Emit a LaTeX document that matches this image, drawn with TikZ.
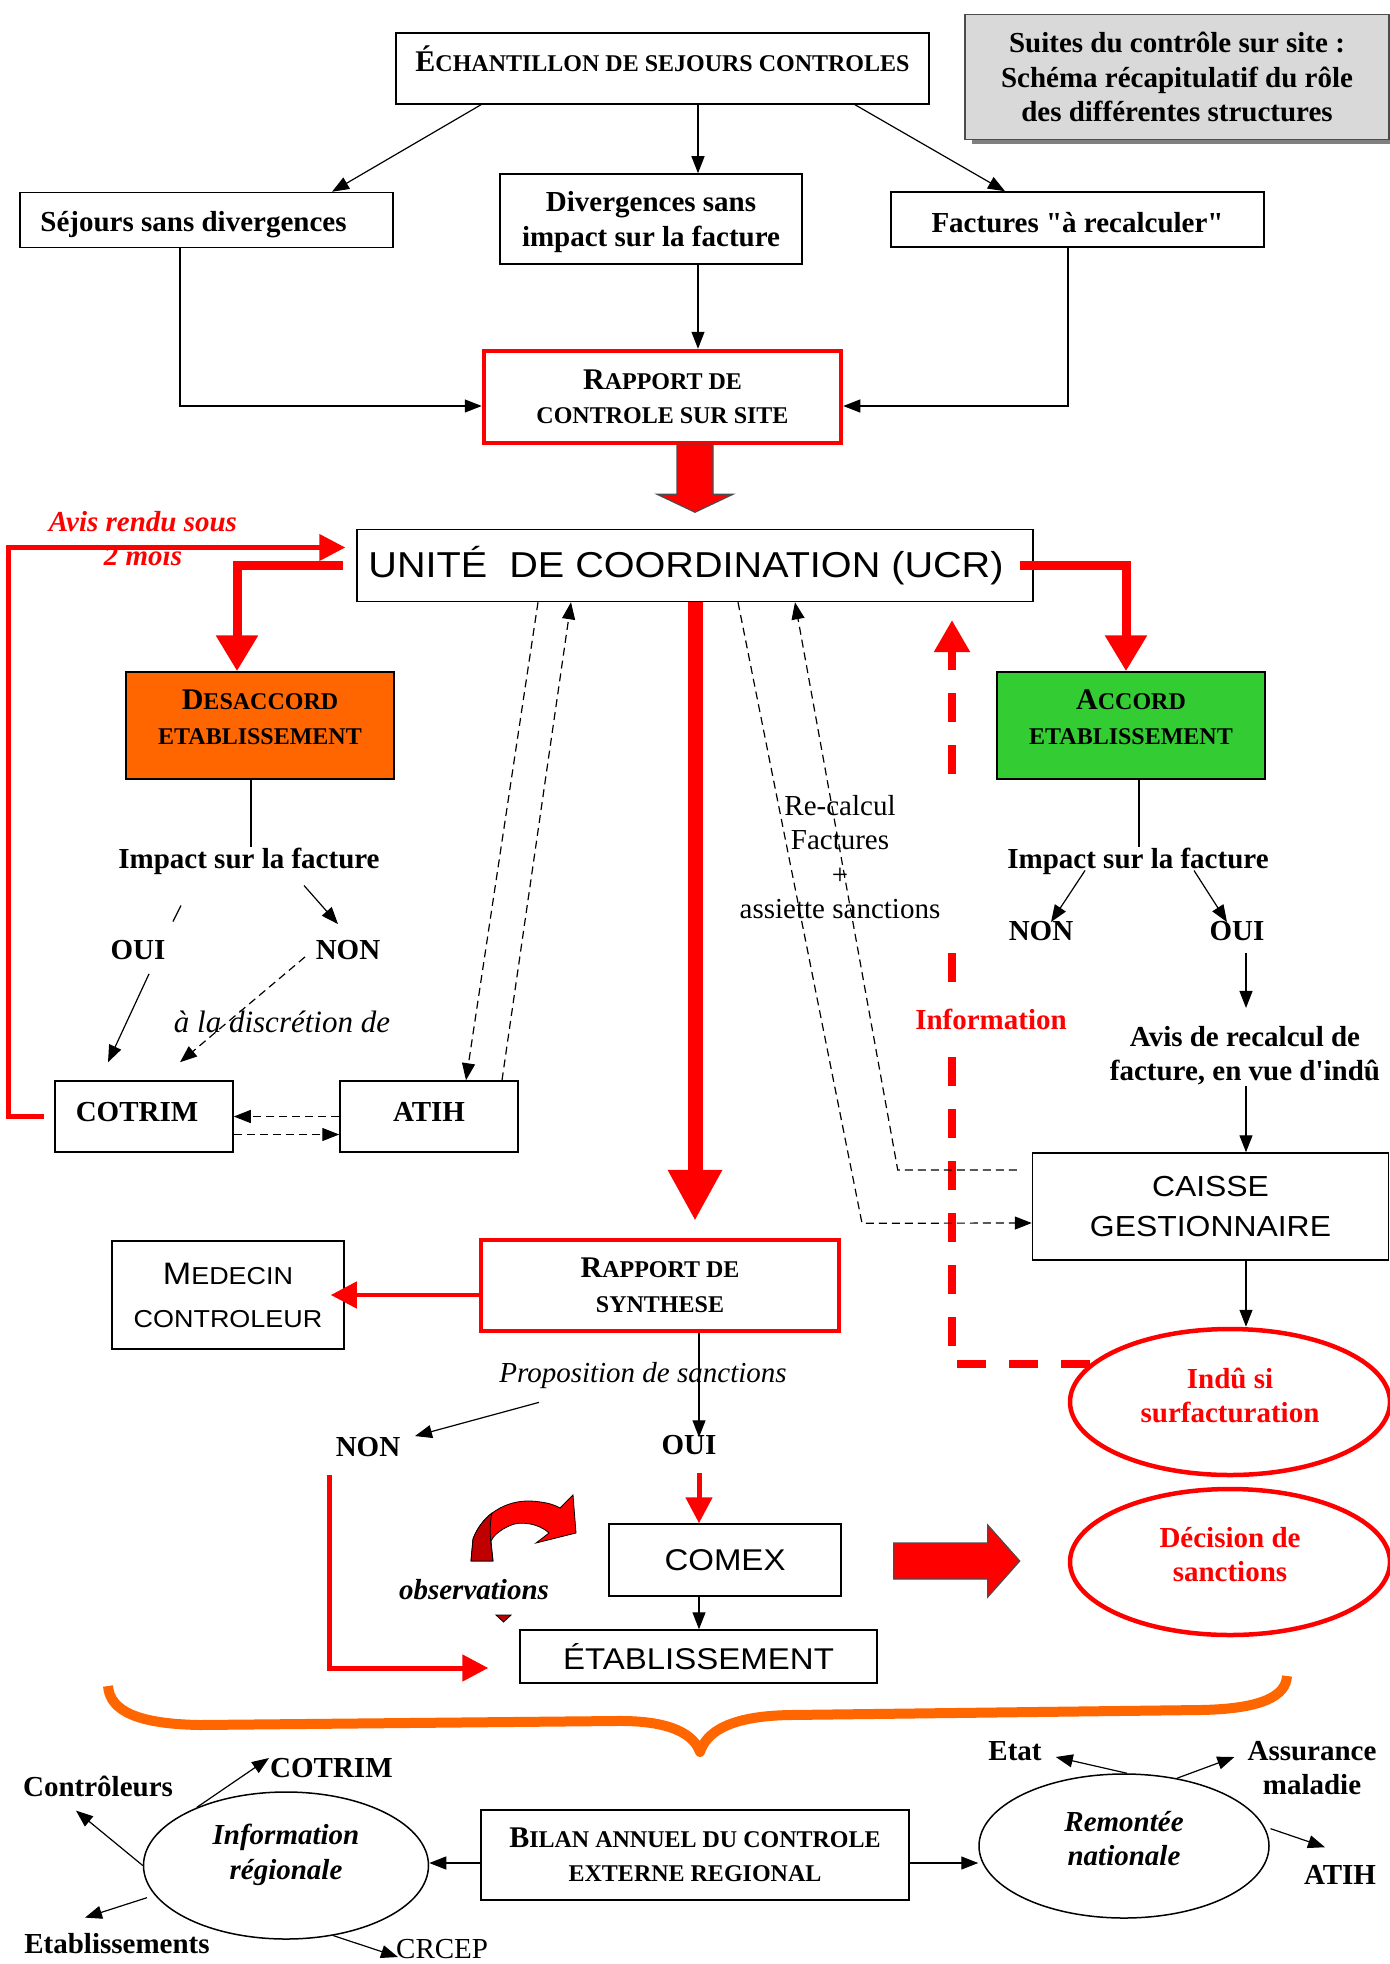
\documentclass[tikz,border=0pt]{standalone}
\usepackage{fontspec}
\setmainfont{Liberation Serif}
\newfontfamily\wsans[FakeStretch=1.1]{Liberation Sans}
\usepackage{tikz}
\usepackage{xcolor}
\usetikzlibrary{arrows.meta,calc,positioning,shapes.geometric,shadows}
\definecolor{RefusOrange}{HTML}{FF6600}
\definecolor{AccordGreen}{HTML}{33CC33}
\definecolor{TitleGray}{HTML}{D9D9D9}
\definecolor{DeepRed}{HTML}{C00000}
\newcommand{\fs}{\fontsize{29pt}{34.5pt}\selectfont}
\newcommand{\scbig}{\fontsize{30pt}{34.5pt}\selectfont}
\newcommand{\scsmall}{\fontsize{24pt}{34.5pt}\selectfont}
\newcommand{\capsc}[2]{{\scbig #1}{\scsmall #2}}

\begin{document}
\begin{tikzpicture}[x=1pt,y=-1pt,
      font=\bfseries\fs,
      bx/.style={draw,line width=1.5pt,inner sep=0pt,align=center},
      rb/.style={bx,draw=red,line width=4.5pt},
      sx/.style={bx,font=\wsans\fontsize{29pt}{40pt}\selectfont},
      lb/.style={inner sep=1pt,align=center},
      ov/.style={ellipse,draw=red,line width=4.5pt,minimum width=320pt,minimum height=146pt,text=red,align=center,inner sep=0pt},
      ci/.style={ellipse,draw,line width=1.5pt,minimum width=285pt,minimum height=147pt,inner sep=0pt,align=center,font=\bfseries\itshape\fs},
      ar/.style={line width=1.2pt,-{Triangle[length=17pt,width=13pt]}},
      da/.style={ar,dash pattern=on 8pt off 5pt},
      ln/.style={line width=1.2pt},
      rt/.style={draw=red,line width=4.5pt,-{Triangle[length=26pt,width=26pt]}},
      rm/.style={draw=red,line width=9pt,-{Triangle[length=36pt,width=40pt]}},
      rg/.style={draw=red,line width=15pt,-{Triangle[length=51pt,width=51pt]}},
      rd/.style={draw=red,line width=8pt,dash pattern=on 29pt off 23pt,-{Triangle[length=32pt,width=34pt]}},
      blk/.style={fill=red,draw=black!70,line width=1.2pt}
    ]
      \useasboundingbox (0,0) rectangle (1389,1964);

      \node[bx,minimum width=533pt,minimum height=71pt,text depth=19pt] (echant) at (662.5,68.5) {\capsc{É}{CHANTILLON DE SEJOURS CONTROLES}};
      \node[bx,draw=black!70,fill=TitleGray,minimum width=424pt,minimum height=125pt,
            drop shadow={shadow xshift=7pt,shadow yshift=-5pt,fill=black!50,opacity=1}] (titre) at (1177,77)
            {Suites du contrôle sur site :\\Schéma récapitulatif du rôle\\des différentes structures};
      \node[bx,minimum width=373pt,minimum height=55pt,text height=30pt] (sejours) at (206.5,220) {Séjours sans divergences\hspace*{26pt}};
      \node[bx,minimum width=302pt,minimum height=90pt,text depth=0pt] (diverg) at (651,219) {Divergences sans\\impact sur la facture};
      \node[bx,minimum width=373pt,minimum height=55pt,text height=26pt] (factures) at (1077.5,219.5) {Factures \textquotedbl à recalculer\textquotedbl};
      \node[rb,minimum width=357pt,minimum height=92pt] (rapctrl) at (662.5,397) {\capsc{R}{APPORT DE}\\{\scsmall CONTROLE SUR SITE}};

      \node[sx,font=\wsans\fontsize{36pt}{40pt}\selectfont,minimum width=676pt,minimum height=72pt] (ucr) at (695,565.5) {UNITÉ~~DE COORDINATION (UCR)\hspace*{18pt}};
      \node[lb,text=red,font=\bfseries\itshape\fs] (delai) at (143,538.5) {Avis rendu sous\\2 mois};

      \node[bx,fill=RefusOrange,minimum width=268pt,minimum height=107pt,text depth=17pt] (desacc) at (260,725.5) {\capsc{D}{ESACCORD}\\{\scsmall ETABLISSEMENT}};
      \node[lb] (impL) at (249,861) {Impact sur la facture};
      \node[lb] (ouiL) at (138,950) {OUI};
      \node[lb] (nonL) at (348,950) {NON};
      \node[lb,font=\itshape\fontsize{31pt}{34.5pt}\selectfont] (discr) at (282,1022) {à la discrétion de};
      \node[bx,minimum width=178pt,minimum height=71pt,text depth=10pt] (cotrim) at (144,1116.5) {COTRIM\hspace*{14pt}};
      \node[bx,minimum width=178pt,minimum height=71pt,text depth=10pt] (atih) at (429,1116.5) {ATIH};

      \node[bx,fill=AccordGreen,minimum width=268pt,minimum height=107pt,text depth=17pt] (accord) at (1131,725.5) {\capsc{A}{CCORD}\\{\scsmall ETABLISSEMENT}};
      \node[lb] (impR) at (1138,861) {Impact sur la facture};
      \node[lb] (nonR) at (1041,931) {NON};
      \node[lb] (ouiR) at (1237,931) {OUI};
      \node[lb] (avis) at (1245,1055.5) {Avis de recalcul de\\facture, en vue d\textquotesingle indû};
      \node[sx,minimum width=356pt,minimum height=107pt] (caisse) at (1210.5,1206.5) {CAISSE\\GESTIONNAIRE};
      \node[ov,text depth=13pt] (indu) at (1230,1402) {Indû si\\surfacturation};
      \node[ov,text depth=15pt] (decis) at (1230,1562) {Décision de\\sanctions};

      \node[rb,minimum width=358pt,minimum height=91pt] (rapsynth) at (660,1285.5) {\capsc{R}{APPORT DE}\\{\scsmall SYNTHESE}};
      \node[bx,font=\wsans\fontsize{24.5pt}{43pt}\selectfont,minimum width=232pt,minimum height=108pt] (medecin) at (228,1295) {{\fontsize{31pt}{43pt}\selectfont M}EDECIN\\CONTROLEUR};
      \node[lb,font=\itshape\fs] (propos) at (643,1376) {Proposition de sanctions};
      \node[lb] (nonS) at (368,1447) {NON};
      \node[lb] (ouiS) at (689,1445) {OUI};
      \node[sx,font=\wsans\fontsize{30pt}{36pt}\selectfont,minimum width=232pt,minimum height=72pt] (comex) at (725,1560) {COMEX};
      \node[sx,font=\wsans\fontsize{30pt}{36pt}\selectfont,minimum width=357pt,minimum height=53pt] (etab) at (698.5,1656.5) {ÉTABLISSEMENT};
      \node[lb,font=\bfseries\itshape\fs] (obs) at (474,1590) {observations};

      \node[bx,minimum width=428pt,minimum height=90pt] (bilan) at (695,1855) {\capsc{B}{ILAN ANNUEL DU CONTROLE}\\{\scsmall EXTERNE REGIONAL}};
      \node[ci,text depth=27pt] (inforeg) at (286,1865.5) {Information\\régionale};
      \node[ci,minimum width=290pt,minimum height=144pt,text depth=15pt] (remont) at (1124,1846) {Remontée\\nationale};
      \node[lb,anchor=west] (cotrimB) at (269,1768) {COTRIM};
      \node[lb] (ctrl) at (98,1786) {Contrôleurs};
      \node[lb] (etabs) at (117,1944) {Etablissements};
      \node[lb,font=\fs,anchor=west] (crcep) at (395,1949) {CRCEP};
      \node[lb] (etat) at (1015,1751) {Etat};
      \node[lb] (assur) at (1312,1768) {Assurance\\maladie};
      \node[lb] (atihB) at (1340,1875) {ATIH};

      \draw[ar] ([xshift=-181.5pt]echant.south) -- ([xshift=125.5pt]sejours.north);
      \draw[ar] ([xshift=35.5pt]echant.south) -- ([xshift=47pt]diverg.north);
      \draw[ar] ([xshift=192.5pt]echant.south) -- ([xshift=-72.5pt]factures.north);
      \draw[ar] ([xshift=47pt]diverg.south) -- ([xshift=35.5pt]rapctrl.north);
      \draw[ar] ([xshift=-26.5pt]sejours.south) |- ([yshift=-9pt]rapctrl.west);
      \draw[ar] ([xshift=-9.5pt]factures.south) |- ([yshift=-9pt]rapctrl.east);
      \draw[blk] ([xshift=14.5pt]rapctrl.south) -- ++(0,49) -- ++(-20,0) -- ++(38,18) -- ++(38,-18) -- ++(-20,0) -- ++(0,-49) -- cycle;

      \draw[rm] ([xshift=-13pt]ucr.west) -| ([xshift=-23pt]desacc.north);
      \draw[rm] ([xshift=-14pt]ucr.east) -| ([xshift=-5pt]accord.north);
      \draw[rt] ([xshift=-10pt]cotrim.west) -- ++(-36,0) |- ([xshift=-11pt,yshift=18pt]ucr.west);

      \draw[ln] ([xshift=-9pt]desacc.south) -- ([xshift=-9pt]desacc.south |- impL.north);
      \draw[ln] (impL.south) ++(-68,30) -- ++(-8,16);
      \draw[ar] (impL.south) ++(55,10) -- ([xshift=-10pt,yshift=15pt]nonL.north);
      \draw[ar] (ouiL.south) ++(11,13) -- ([xshift=-36pt,yshift=18pt]cotrim.north);
      \draw[da] (nonL.south) ++(-43,-4) -- ([xshift=36pt,yshift=18pt]cotrim.north);
      \draw[da] (atih.west) -- (cotrim.east);
      \draw[da] ([yshift=-18pt]cotrim.east) -- ([yshift=-18pt]atih.west);
      \draw[da] ([xshift=-157pt]ucr.south) -- ([xshift=37pt]atih.north);
      \draw[da] ([xshift=73pt]atih.north) -- ([xshift=-124pt]ucr.south);

      \draw[ln] ([xshift=8pt]accord.south) -- ([xshift=8pt]accord.south |- impR.north);
      \draw[ar] (impR.south) ++(-53,-5) -- ([xshift=10pt,yshift=-2pt]nonR.north);
      \draw[ar] (impR.south) ++(56,-5) -- ([xshift=-10pt,yshift=-2pt]ouiR.north);
      \draw[ar] (ouiR.south) ++(9,11) -- ++(0,55);
      \draw[ar] ([xshift=1pt]avis.south) -- ([xshift=35.5pt]caisse.north);
      \draw[ar] ([xshift=35.5pt]caisse.south) -- ([xshift=16pt]indu.north);

      \coordinate (infotop) at (952,620);
      \draw[rd] (indu.165) -| (infotop);
      \node[lb,font=\fs,fill=white,minimum width=240pt,minimum height=162pt] (recalc) at (840,857) {Re-calcul\\Factures\\+\\assiette sanctions};
      \node[lb,text=red,fill=white,inner ysep=17pt] (info) at (991,1019) {Information};
      \draw[da] ([xshift=43pt]ucr.south) -- ++(124,621) -- ([yshift=-16.5pt]caisse.west);
      \draw[da] ([xshift=-15pt,yshift=36.5pt]caisse.west) -- ++(-119,0) -- ([xshift=100pt]ucr.south);

      \draw[rg] (ucr.south) -- ([xshift=35pt,yshift=17pt]rapsynth.north);
      \draw[rt] ([yshift=-9.5pt]rapsynth.west) -- ([xshift=-14pt]medecin.east);
      \draw[ar] ([xshift=39pt]rapsynth.south) -- ++(0,104);
      \draw[ar] (propos.south) ++(-104,12) -- ([xshift=47pt]nonS.north);
      \draw[rt,line width=5pt] ([xshift=10pt,yshift=-17pt]ouiS.south) -- ([xshift=-26pt]comex.north);
      \draw[ar] ([xshift=-26pt]comex.south) -- ([xshift=0.5pt]etab.north);
      \draw[rt,line width=5pt] ([xshift=-39pt,yshift=-17pt]nonS.south) |- ([xshift=-31pt,yshift=-11.5pt]etab.west);
      \draw[blk] ([xshift=52pt,yshift=17pt]comex.east) -- ++(94,0) -- ++(0,-18) -- ++(32,36) -- ++(-32,36) -- ++(0,-18) -- ++(-94,0) -- cycle;

      \filldraw[fill=red,draw=black,line width=0.8pt] (471,1561) -- (473,1539) .. controls (482,1515) and (505,1500) .. (531,1501) .. controls (545,1502) and (553,1504) .. (560,1508) -- (573,1495) -- (576,1533) -- (536,1543) -- (549,1533) .. controls (540,1524) and (520,1520) .. (509,1526) .. controls (500,1530) and (493,1536) .. (491,1541) -- (493,1561) -- cycle;
      \filldraw[fill=DeepRed,draw=black,line width=0.8pt] (471,1561) -- (473,1539) .. controls (477,1528) and (484,1519) .. (492,1513) .. controls (489,1525) and (490,1540) .. (493,1561) -- cycle;
      \filldraw[fill=DeepRed,draw=black,line width=0.8pt] (496,1615) -- (511,1615) -- (503.5,1622) -- cycle;

      \draw[draw=RefusOrange,line width=10pt,line join=round] (108,1686) .. controls (110,1712) and (140,1724) .. (200,1725) -- (615,1721) .. controls (672,1720) and (694,1735) .. (700,1752) .. controls (706,1733) and (728,1716) .. (790,1715) -- (1200,1710) .. controls (1262,1709) and (1286,1696) .. (1287,1676);

      \draw[ar] ([yshift=-8pt]bilan.west) -- ([yshift=-8pt]bilan.west -| inforeg.east);
      \draw[ar] ([yshift=-8pt]bilan.east) -- ([yshift=-8pt]bilan.east -| remont.west);
      \draw[ar] (inforeg.147) -- ([yshift=10pt]cotrimB.west);
      \draw[ar] (inforeg.west) -- ([xshift=-22pt,yshift=-13pt]ctrl.south);
      \draw[ar] ([xshift=-10pt]inforeg.194) -- ([xshift=-32pt,yshift=15pt]etabs.north);
      \draw[ar] (inforeg.304) -- ([xshift=3pt,yshift=-8pt]crcep.west);
      \draw[ar] ([xshift=3pt]remont.north) -- ([xshift=13pt,yshift=-6pt]etat.east);
      \draw[ar] (remont.52) -- ([xshift=-12pt,yshift=11pt]assur.west);
      \draw[ar] ([xshift=5pt]remont.7) -- ([xshift=-15pt,yshift=17pt]atihB.north);
    \end{tikzpicture}
\end{document}
